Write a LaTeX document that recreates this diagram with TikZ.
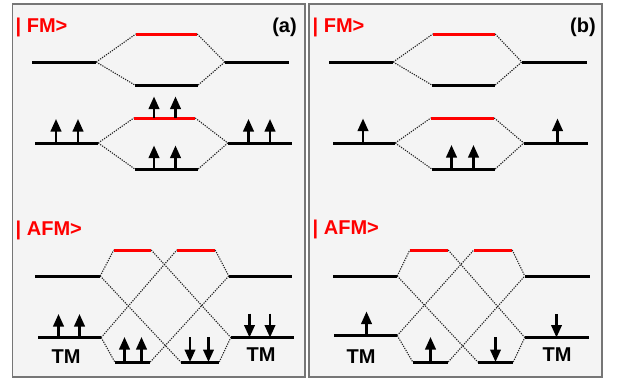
\documentclass[tikz,border=0pt]{standalone}
\usepackage{fontspec}
\setmainfont{Liberation Sans}
\usepackage{xcolor}
\usepackage{tikz}
\usetikzlibrary{arrows.meta}
\definecolor{levelred}{HTML}{FF0000}
\definecolor{panelgray}{HTML}{F4F4F4}
\definecolor{framegray}{HTML}{767676}
\definecolor{linkgray}{HTML}{222222}
\tikzset{
  panel/.style={draw=framegray, fill=panelgray, line width=1.2pt},
  level/.style={fill=black, inner sep=0pt, minimum height=3pt, minimum width=#1pt},
  redlevel/.style={level=#1, fill=levelred},
  link/.style={linkgray, line width=1.1pt, dash pattern=on 1.2pt off 1.2pt},
  spin/.style={line width=2.3pt, -{Triangle[width=10.5pt,length=12.5pt]}},
  caption/.style={font=\fontsize{20}{23}\selectfont\bfseries, inner sep=0pt},
  statename/.style={caption, text=levelred}
}
\begin{document}
\begin{tikzpicture}[x=1pt,y=-1pt]
  \useasboundingbox (0,0) rectangle (620,378);
  \draw[panel] (12.5,4) rectangle (305,377);
  \draw[panel] (309,4) rectangle (602,377);

  % panel (a), |FM>
  \node[statename, anchor=base west] (fma) at (15.5,32.5) {| FM>};
  \node[caption, anchor=base] (taga) at (284.5,32) {(a)};
  \node[level=64] (a1) at (64,62) {};
  \node[redlevel=61] (a2) at (166.5,34) {};
  \node[level=63] (a3) at (166.5,85) {};
  \node[level=64] (a4) at (257,62) {};
  \node[level=63] (a5) at (66.5,143) {};
  \node[redlevel=61] (a6) at (164.5,118) {};
  \node[level=63] (a7) at (166.5,169) {};
  \node[level=64] (a8) at (260,143) {};
  \draw[link] (a1.east) -- (a2.west);
  \draw[link] (a1.east) -- (a3.west);
  \draw[link] (a2.east) -- (a4.west);
  \draw[link] (a3.east) -- (a4.west);
  \draw[link] (a5.east) -- (a6.west);
  \draw[link] (a5.east) -- (a7.west);
  \draw[link] (a6.east) -- (a8.west);
  \draw[link] (a7.east) -- (a8.west);
  \foreach \x in {56,78,248.5,270}
    \draw[spin] (\x,143) -- (\x,119);
  \foreach \x in {154,175.5}{
    \draw[spin] (\x,118) -- (\x,96.5);
    \draw[spin] (\x,169) -- (\x,145.5);
  }

  % panel (a), |AFM>
  \node[statename, anchor=base west] (afma) at (15.5,235) {| AFM>};
  \node[level=65] (c1) at (67.5,276) {};
  \node[redlevel=37] (c2) at (132.5,250) {};
  \node[redlevel=38] (c3) at (196,250) {};
  \node[level=63] (c4) at (260.5,276) {};
  \node[level=63] (c5) at (69.5,337.5) {};
  \node[level=35] (c6) at (132.5,362) {};
  \node[level=38] (c7) at (200,362) {};
  \node[level=63] (c8) at (262.5,337.5) {};
  \draw[link] (c1.east) -- (c2.west);
  \draw[link] (c1.east) -- (c7.west);
  \draw[link] (c5.east) -- (c6.west);
  \draw[link] (c5.east) -- (c3.west);
  \draw[link] (c2.east) -- (c8.west);
  \draw[link] (c6.east) -- (c4.west);
  \draw[link] (c3.east) -- (c4.west);
  \draw[link] (c7.east) -- (c8.west);
  \foreach \x in {58.5,79.5}
    \draw[spin] (\x,337.5) -- (\x,314);
  \foreach \x in {124.5,141.5}
    \draw[spin] (\x,362) -- (\x,337);
  \foreach \x in {190,208.5}
    \draw[spin] (\x,337) -- (\x,362);
  \foreach \x in {249.5,270}
    \draw[spin] (\x,313.5) -- (\x,337.5);
  \node[caption, anchor=base] (tma1) at (66,363) {TM};
  \node[caption, anchor=base] (tma2) at (261,361) {TM};

  % panel (b), |FM>
  \node[statename, anchor=base west] (fmb) at (312.5,32.5) {| FM>};
  \node[caption, anchor=base] (tagb) at (583,32) {(b)};
  \node[level=64] (b1) at (361,62) {};
  \node[redlevel=62] (b2) at (464,34) {};
  \node[level=63] (b3) at (463.5,85) {};
  \node[level=65] (b4) at (554.5,62) {};
  \node[level=62] (b5) at (364,143) {};
  \node[redlevel=63] (b6) at (462.5,118) {};
  \node[level=63] (b7) at (463.5,169) {};
  \node[level=64] (b8) at (556,143) {};
  \draw[link] (b1.east) -- (b2.west);
  \draw[link] (b1.east) -- (b3.west);
  \draw[link] (b2.east) -- (b4.west);
  \draw[link] (b3.east) -- (b4.west);
  \draw[link] (b5.east) -- (b6.west);
  \draw[link] (b5.east) -- (b7.west);
  \draw[link] (b6.east) -- (b8.west);
  \draw[link] (b7.east) -- (b8.west);
  \foreach \x in {363,557.5}
    \draw[spin] (\x,143) -- (\x,118.5);
  \foreach \x in {451.5,473.5}
    \draw[spin] (\x,169) -- (\x,145);

  % panel (b), |AFM>
  \node[statename, anchor=base west] (afmb) at (312.5,234) {| AFM>};
  \node[level=64] (d1) at (365,276) {};
  \node[redlevel=38] (d2) at (429,250) {};
  \node[redlevel=38] (d3) at (493,250) {};
  \node[level=65] (d4) at (557.5,276) {};
  \node[level=63] (d5) at (365.5,335.5) {};
  \node[level=35] (d6) at (430.5,362) {};
  \node[level=35] (d7) at (495.5,362) {};
  \node[level=64] (d8) at (557,337.5) {};
  \draw[link] (d1.east) -- (d2.west);
  \draw[link] (d1.east) -- (d7.west);
  \draw[link] (d5.east) -- (d6.west);
  \draw[link] (d5.east) -- (d3.west);
  \draw[link] (d2.east) -- (d8.west);
  \draw[link] (d6.east) -- (d4.west);
  \draw[link] (d3.east) -- (d4.west);
  \draw[link] (d7.east) -- (d8.west);
  \draw[spin] (366.5,335.5) -- (366.5,311.5);
  \draw[spin] (430.5,362) -- (430.5,337);
  \draw[spin] (495.5,337) -- (495.5,362);
  \draw[spin] (556.5,314) -- (556.5,337.5);
  \node[caption, anchor=base] (tmb1) at (361,363) {TM};
  \node[caption, anchor=base] (tmb2) at (557,361) {TM};
\end{tikzpicture}
\end{document}
